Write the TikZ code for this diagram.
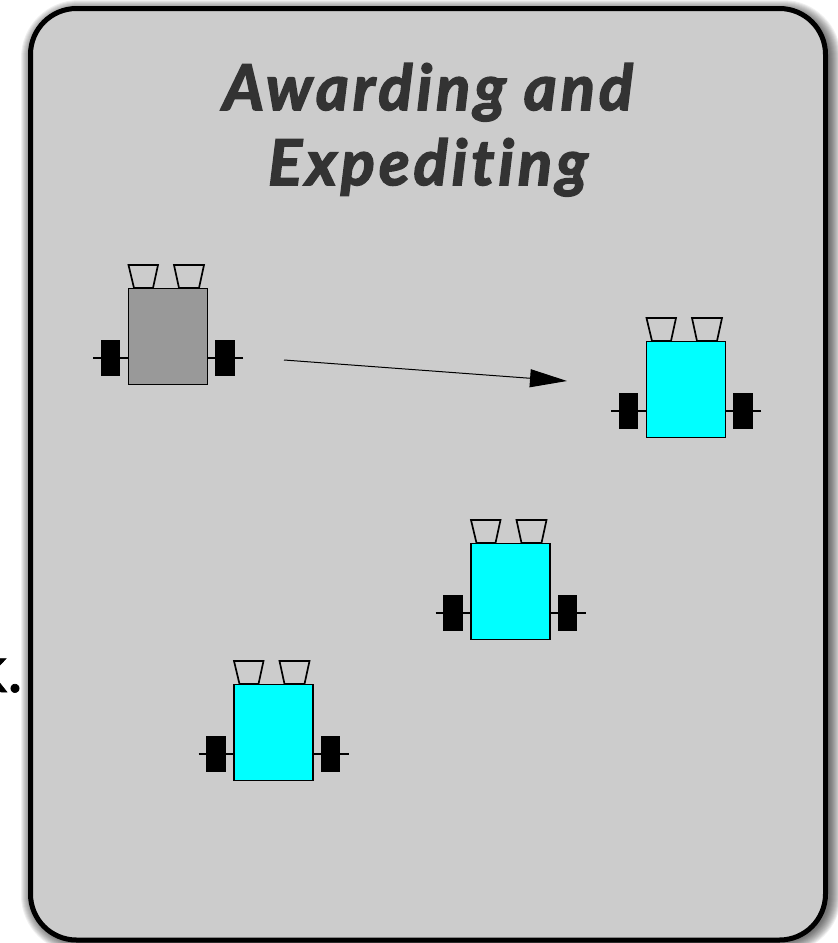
\documentclass[tikz,border=0pt]{standalone}
\usepackage{fontspec}
\setmainfont{Lato}
\newfontfamily\titlefont[LetterSpace=6.5,Ligatures=CommonOff,FakeBold=2.6]{Lato Bold Italic}
\newfontfamily\fragfont[FakeBold=1]{Lato}
\usetikzlibrary{arrows.meta,calc}
\definecolor{panelgray}{RGB}{204,204,204}
\definecolor{bodygray}{RGB}{153,153,153}
\definecolor{titlegray}{RGB}{51,51,51}
\definecolor{robotcyan}{RGB}{0,255,255}
\tikzset{
  x=1pt,y=-1pt,
  panel/.style={draw=black,fill=panelgray,line width=5pt,rounded corners=46pt},
  robotline/.style={draw=black,line width=1.7pt},
  chassis/.style={robotline,rectangle,inner sep=0pt,outer sep=0pt,minimum width=79pt,minimum height=96pt},
  wheelbox/.style={fill=black,draw=none,rectangle,inner sep=0pt,minimum width=19.5pt,minimum height=36pt},
  sensor/.style={robotline,line join=miter},
  titletext/.style={text=titlegray,font=\fontsize{63}{75}\selectfont\titlefont,align=center,inner sep=0pt},
  link/.style={draw=black,line width=1pt,-{Triangle[length=37pt,width=18pt]}},
}
\newcommand{\robotat}[4]{%
  \begin{scope}[shift={(#1,#2)}]
    \draw[sensor] (0.5,-23) -- (30,-23) -- (25,0) -- (6,0) -- cycle;
    \draw[sensor] (46,-23) -- (76,-23) -- (71,0) -- (51,0) -- cycle;
    \node[chassis,fill=#3,anchor=north west] (#4body) at (0.4,0.4) {};
    \coordinate (#4la) at (-35,70);
    \coordinate (#4ra) at (115,70);
    \draw[robotline] (#4la) -- (#4body.west |- #4la);
    \draw[robotline] (#4ra) -- (#4body.east |- #4ra);
    \node[wheelbox] (#4lw) at (-17.5,70) {};
    \node[wheelbox] (#4rw) at (97,70) {};
  \end{scope}}
\begin{document}
\begin{tikzpicture}
\useasboundingbox (0,0) rectangle (838,943);
\clip (0,0) rectangle (838,943);
\fill[white] (0,0) rectangle (838,943);
% soft drop shadow
\foreach \w in {24,22,...,2}{
  \draw[black,opacity=0.06,line width=\w pt,rounded corners=46pt,fill=none]
    (33,12) rectangle (829,941);
}
\draw[panel] (30.5,8.5) rectangle (825.5,940);
\node[titletext,anchor=base] (title) at (428,110) {Awarding and};
\node[titletext,anchor=base] (title2) at (428,185) {Expediting};
\node[anchor=base east,inner sep=0pt,text=black,font=\fontsize{66}{66}\selectfont\fragfont] (fragment) at (23,692) {k.};
\robotat{128}{288}{bodygray}{a}
\robotat{646}{341}{robotcyan}{b}
\robotat{470.5}{543}{robotcyan}{c}
\robotat{233.5}{684}{robotcyan}{d}
\coordinate (from) at (284,360);
\coordinate (to) at (567,381);
\draw[link] (from) -- (to);
\end{tikzpicture}
\end{document}
